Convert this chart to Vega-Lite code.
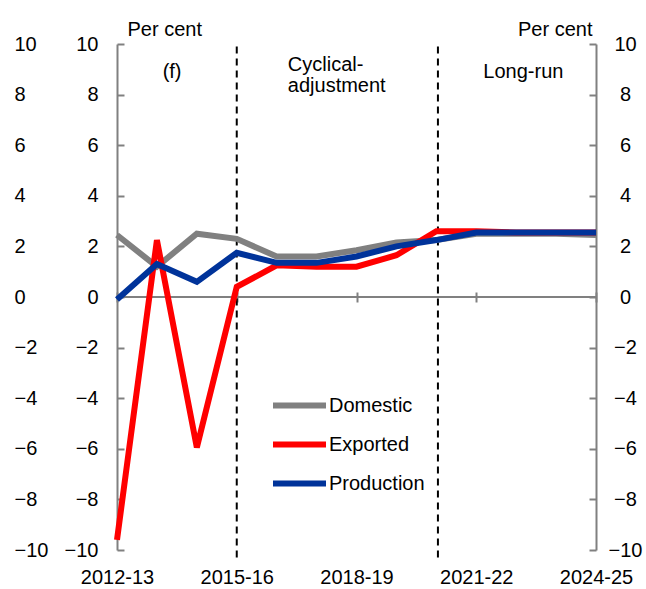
{
  "$schema": "https://vega.github.io/schema/vega-lite/v6.json",
  "autosize": {"type": "none"},
  "width": 479,
  "height": 506,
  "padding": {"left": 117, "top": 44, "right": 50, "bottom": 39},
  "config": {
    "font": "Liberation Sans",
    "view": {"stroke": null},
    "axis": {"labelFont": "Liberation Sans", "titleFont": "Liberation Sans", "labelColor": "#000000", "titleColor": "#000000", "grid": false}
  },
  "resolve": {"scale": {"y": "independent"}, "axis": {"y": "independent"}},
  "layer": [
    {
      "data": {"values": [{"z": 0}]},
      "mark": {"type": "rule", "color": "#808080", "strokeWidth": 2},
      "encoding": {
        "y": {"field": "z", "type": "quantitative", "scale": {"domain": [-10, 10], "nice": false, "zero": false}, "axis": null}
      }
    },
    {
      "data": {"values": [{"x": 2015, "top": 9.9, "bottom": -10.3}, {"x": 2020.04, "top": 9.9, "bottom": -10.3}]},
      "mark": {"type": "rule", "color": "#000000", "strokeWidth": 2, "strokeDash": [7, 5], "clip": false},
      "encoding": {
        "x": {"field": "x", "type": "quantitative", "scale": {"domain": [2012, 2024], "nice": false, "zero": false},
          "axis": {"orient": "bottom", "offset": -258, "values": [2012, 2015, 2018, 2021, 2024], "domain": false,
            "tickColor": "#808080", "tickWidth": 2, "tickSize": 10, "labelPadding": 265, "labelFlush": false, "labelOverlap": false,
            "labelFontSize": 20, "labelExpr": "toString(datum.value) + '-' + substring(toString(datum.value + 1), 2)", "title": null}},
        "y": {"field": "top", "type": "quantitative", "scale": {"domain": [-10, 10], "nice": false, "zero": false},
          "axis": {"orient": "left", "offset": 100, "values": [-10, -8, -6, -4, -2, 0, 2, 4, 6, 8, 10], "domain": false, "ticks": false,
            "labelAlign": "left", "labelPadding": 3, "labelFontSize": 20, "title": null}},
        "y2": {"field": "bottom"}
      }
    },
    {
      "data": {"values": [
        {"year": 2012, "series": "Domestic", "value": 2.45},
        {"year": 2013, "series": "Domestic", "value": 1.2},
        {"year": 2014, "series": "Domestic", "value": 2.5},
        {"year": 2015, "series": "Domestic", "value": 2.3},
        {"year": 2016, "series": "Domestic", "value": 1.6},
        {"year": 2017, "series": "Domestic", "value": 1.6},
        {"year": 2018, "series": "Domestic", "value": 1.85},
        {"year": 2019, "series": "Domestic", "value": 2.15},
        {"year": 2020, "series": "Domestic", "value": 2.25},
        {"year": 2021, "series": "Domestic", "value": 2.5},
        {"year": 2022, "series": "Domestic", "value": 2.5},
        {"year": 2023, "series": "Domestic", "value": 2.5},
        {"year": 2024, "series": "Domestic", "value": 2.45},
        {"year": 2012, "series": "Exported", "value": -9.6},
        {"year": 2013, "series": "Exported", "value": 2.25},
        {"year": 2014, "series": "Exported", "value": -5.95},
        {"year": 2015, "series": "Exported", "value": 0.4},
        {"year": 2016, "series": "Exported", "value": 1.25},
        {"year": 2017, "series": "Exported", "value": 1.2},
        {"year": 2018, "series": "Exported", "value": 1.2},
        {"year": 2019, "series": "Exported", "value": 1.65},
        {"year": 2020, "series": "Exported", "value": 2.6},
        {"year": 2021, "series": "Exported", "value": 2.6},
        {"year": 2022, "series": "Exported", "value": 2.55},
        {"year": 2023, "series": "Exported", "value": 2.55},
        {"year": 2024, "series": "Exported", "value": 2.55},
        {"year": 2012, "series": "Production", "value": -0.1},
        {"year": 2013, "series": "Production", "value": 1.3},
        {"year": 2014, "series": "Production", "value": 0.6},
        {"year": 2015, "series": "Production", "value": 1.75},
        {"year": 2016, "series": "Production", "value": 1.35},
        {"year": 2017, "series": "Production", "value": 1.35},
        {"year": 2018, "series": "Production", "value": 1.6},
        {"year": 2019, "series": "Production", "value": 2.0},
        {"year": 2020, "series": "Production", "value": 2.25},
        {"year": 2021, "series": "Production", "value": 2.55},
        {"year": 2022, "series": "Production", "value": 2.55},
        {"year": 2023, "series": "Production", "value": 2.55},
        {"year": 2024, "series": "Production", "value": 2.55}
      ]},
      "mark": {"type": "line", "strokeWidth": 6},
      "encoding": {
        "x": {"field": "year", "type": "quantitative"},
        "y": {"field": "value", "type": "quantitative", "scale": {"domain": [-10, 10], "nice": false, "zero": false},
          "axis": {"orient": "left", "values": [-10, -8, -6, -4, -2, 0, 2, 4, 6, 8, 10], "domainColor": "#808080", "domainWidth": 2,
            "tickColor": "#808080", "tickWidth": 2, "tickSize": -7, "labelPadding": 26, "labelFontSize": 20,
            "title": "Per cent", "titleAngle": 0, "titleX": 10, "titleY": -9, "titleAlign": "left", "titleBaseline": "alphabetic",
            "titleFontSize": 20, "titleFontWeight": "normal"}},
        "color": {"field": "series", "type": "nominal",
          "scale": {"domain": ["Domestic", "Exported", "Production"], "range": ["#808080", "#FF0000", "#00339A"]},
          "legend": {"orient": "none", "legendX": 167, "legendY": 346, "title": null, "labelFontSize": 20, "labelColor": "#000000",
            "symbolType": "M-2.12,0H2.12", "symbolStrokeWidth": 6, "symbolSize": 625, "rowPadding": 11, "labelOffset": 14, "padding": 0}}
      }
    },
    {
      "data": {"values": [
        {"x": 2013.38, "y": 8.66, "label": "(f)"},
        {"x": 2022.18, "y": 8.66, "label": "Long-run"}
      ]},
      "mark": {"type": "text", "fontSize": 20, "align": "center", "baseline": "alphabetic", "color": "#000000"},
      "encoding": {
        "x": {"field": "x", "type": "quantitative"},
        "y": {"field": "y", "type": "quantitative", "scale": {"domain": [-10, 10], "nice": false, "zero": false},
          "axis": {"orient": "right", "values": [-10, -8, -6, -4, -2, 0, 2, 4, 6, 8, 10], "domainColor": "#808080", "domainWidth": 2,
            "tickColor": "#808080", "tickWidth": 2, "tickSize": -7, "labelPadding": 36, "labelAlign": "center", "labelFontSize": 20,
            "title": "Per cent", "titleAngle": 0, "titleX": -4, "titleY": -9, "titleAlign": "right", "titleBaseline": "alphabetic",
            "titleFontSize": 20, "titleFontWeight": "normal"}},
        "text": {"field": "label"}
      }
    },
    {
      "data": {"values": [
        {"x": 2016.28, "y": 8.93, "label": "Cyclical-"},
        {"x": 2016.28, "y": 8.1, "label": "adjustment"}
      ]},
      "mark": {"type": "text", "fontSize": 20, "align": "left", "baseline": "alphabetic", "color": "#000000"},
      "encoding": {
        "x": {"field": "x", "type": "quantitative"},
        "y": {"field": "y", "type": "quantitative", "scale": {"domain": [-10, 10], "nice": false, "zero": false}, "axis": null},
        "text": {"field": "label"}
      }
    }
  ]
}
